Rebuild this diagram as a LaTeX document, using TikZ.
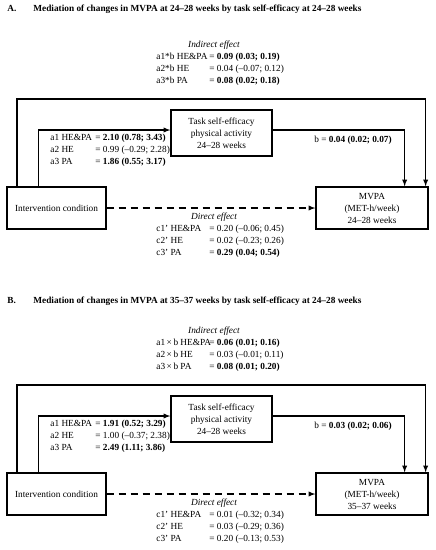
\documentclass[tikz,border=0pt]{standalone}
\usepackage{fontspec}
\setmainfont{Liberation Serif}
\usepackage{tikz}
\usetikzlibrary{calc}

\newcommand{\lbl}[2]{\makebox[#1][l]{#2}}

\begin{document}
\begin{tikzpicture}[thick, x=1pt, y=-1pt, font=\fontsize{9.3}{12}\selectfont]
	% Define style for nodes
	\tikzstyle{every node}=[inner sep=0pt]
	\tikzstyle{box}=[draw, line width=1.3pt, align=center]
	\tikzstyle{txt}=[anchor=west, align=left]
	\tikzstyle{hd}=[font=\fontsize{9.3}{12}\selectfont\itshape]
	\tikzstyle{arr}=[-latex, line width=1.3pt]
	
	\useasboundingbox (0,0) rectangle (436,550);
	
	\begin{scope}
		\node[txt] (ta) at (7,9) {\makebox[26pt][l]{\textbf{A.}}\textbf{Mediation of changes in MVPA at 24--28 weeks by task self-efficacy at 24--28 weeks}};
		
		\node[hd] (ia) at (214,45) {Indirect effect};
		\node[txt] (ina) at (156,69) {\begin{tabular}{@{}l@{}l@{}}
				\lbl{53pt}{a1*b HE\&PA} & = \textbf{0.09 (0.03; 0.19)}\\
				\lbl{53pt}{a2*b HE} & = 0.04 (--0.07; 0.12)\\
				\lbl{53pt}{a3*b PA} & = \textbf{0.08 (0.02; 0.18)}
			\end{tabular}};
		
		\node[box, minimum width=99pt, minimum height=42pt] (iv) at (56.5,208) {Intervention condition};
		\node[box, minimum width=101pt, minimum height=46pt] (se) at (221.5,133) {Task self-efficacy\\physical activity\\24--28 weeks};
		\node[box, minimum width=112pt, minimum height=42pt] (mv) at (372,208) {MVPA\\(MET-h/week)\\24--28 weeks};
		
		\coordinate (la) at (17,99);
		\draw[arr] (iv.north -| la) -- (la) -| ($(mv.north east)+(-3,0)$);
		\draw[arr] ($(iv.north west)+(32,0)$) |- ($(se.west)+(0,-3)$);
		\draw[arr] ($(se.east)+(0,-3)$) -| ($(mv.north east)+(-24,0)$);
		\draw[arr, dash pattern=on 7pt off 5pt] (iv) -- (mv);
		
		\node[txt] (aa) at (50,150) {\begin{tabular}{@{}l@{}l@{}}
				\lbl{45pt}{a1 HE\&PA} & = \textbf{2.10 (0.78; 3.43)}\\
				\lbl{45pt}{a2 HE} & = 0.99 (--0.29; 2.28)\\
				\lbl{45pt}{a3 PA} & = \textbf{1.86 (0.55; 3.17)}
			\end{tabular}};
		\node[txt] (ba) at (314,140) {b = \textbf{0.04 (0.02; 0.07)}};
		
		\node[hd] (da) at (214,217) {Direct effect};
		\node[txt] (dia) at (156,241) {\begin{tabular}{@{}l@{}l@{}}
				\lbl{53pt}{c1' HE\&PA} & = 0.20 (--0.06; 0.45)\\
				\lbl{53pt}{c2' HE} & = 0.02 (--0.23; 0.26)\\
				\lbl{53pt}{c3' PA} & = \textbf{0.29 (0.04; 0.54)}
			\end{tabular}};
	\end{scope}
	
	\begin{scope}[yshift=-286pt]
		\node[txt] (tb) at (7,15) {\makebox[26pt][l]{\textbf{B.}}\textbf{Mediation of changes in MVPA at 35--37 weeks by task self-efficacy at 24--28 weeks}};
		
		\node[hd] (ib) at (214,45) {Indirect effect};
		\node[txt] (inb) at (156,69) {\begin{tabular}{@{}l@{}l@{}}
				\lbl{53pt}{a1\,×\,b HE\&PA} & = \textbf{0.06 (0.01; 0.16)}\\
				\lbl{53pt}{a2\,×\,b HE} & = 0.03 (--0.01; 0.11)\\
				\lbl{53pt}{a3\,×\,b PA} & = \textbf{0.08 (0.01; 0.20)}
			\end{tabular}};
		
		\node[box, minimum width=99pt, minimum height=42pt] (iv) at (56.5,208) {Intervention condition};
		\node[box, minimum width=101pt, minimum height=46pt] (se) at (221.5,133) {Task self-efficacy\\physical activity\\24--28 weeks};
		\node[box, minimum width=112pt, minimum height=42pt] (mv) at (372,208) {MVPA\\(MET-h/week)\\35--37 weeks};
		
		\coordinate (lb) at (17,99);
		\draw[arr] (iv.north -| lb) -- (lb) -| ($(mv.north east)+(-3,0)$);
		\draw[arr] ($(iv.north west)+(32,0)$) |- ($(se.west)+(0,-3)$);
		\draw[arr] ($(se.east)+(0,-3)$) -| ($(mv.north east)+(-24,0)$);
		\draw[arr, dash pattern=on 7pt off 5pt] (iv) -- (mv);
		
		\node[txt] (ab) at (50,150) {\begin{tabular}{@{}l@{}l@{}}
				\lbl{45pt}{a1 HE\&PA} & = \textbf{1.91 (0.52; 3.29)}\\
				\lbl{45pt}{a2 HE} & = 1.00 (--0.37; 2.38)\\
				\lbl{45pt}{a3 PA} & = \textbf{2.49 (1.11; 3.86)}
			\end{tabular}};
		\node[txt] (bb) at (314,140) {b = \textbf{0.03 (0.02; 0.06)}};
		
		\node[hd] (db) at (214,217) {Direct effect};
		\node[txt] (dib) at (156,241) {\begin{tabular}{@{}l@{}l@{}}
				\lbl{53pt}{c1' HE\&PA} & = 0.01 (--0.32; 0.34)\\
				\lbl{53pt}{c2' HE} & = 0.03 (--0.29; 0.36)\\
				\lbl{53pt}{c3' PA} & = 0.20 (--0.13; 0.53)
			\end{tabular}};
	\end{scope}
	
\end{tikzpicture}
\end{document}
